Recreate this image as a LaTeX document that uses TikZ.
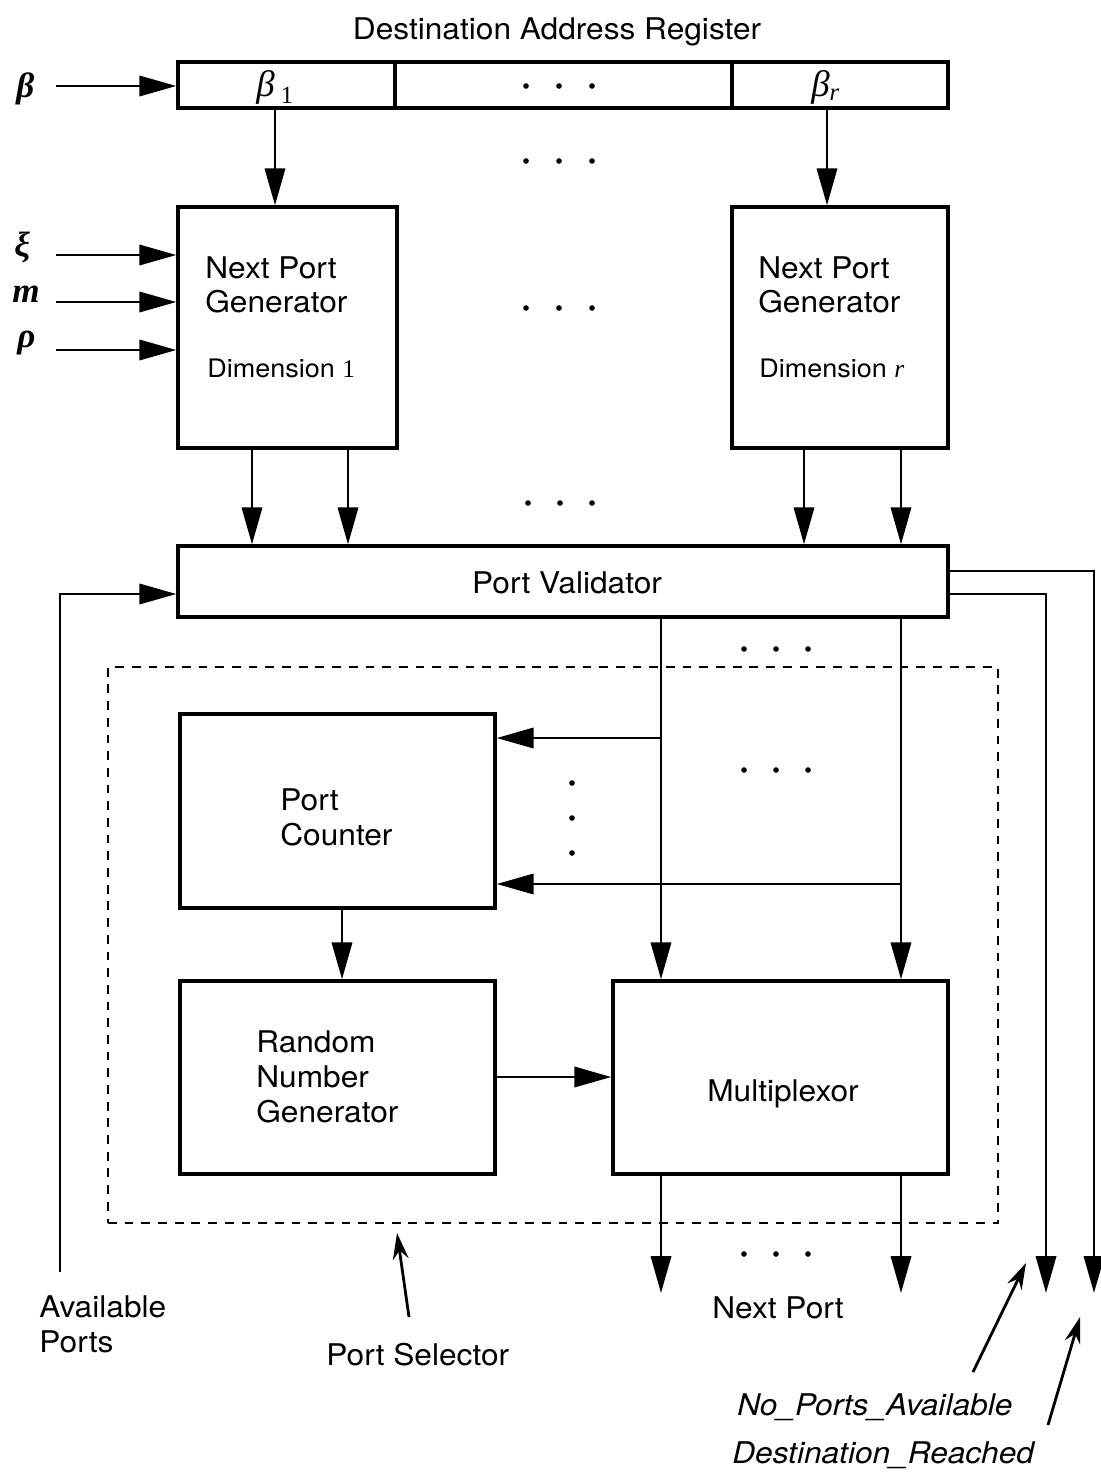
\documentclass[tikz,border=0pt]{standalone}
\usepackage{fontspec}
\setmainfont{TeX Gyre Heros}[FakeStretch=1.06]
\newfontfamily\tms{Liberation Serif}
\usetikzlibrary{arrows.meta,fit}

\begin{document}
\begin{tikzpicture}[x=0.02cm,y=-0.02cm,
  box/.style={draw,line width=1.9pt,inner sep=0pt},
  wire/.style={line width=1.6pt},
  arr/.style={wire,-{Triangle[length=21pt,width=11.5pt]}},
  ptr/.style={line width=1.6pt,-{Stealth[length=15pt,width=9pt,inset=5pt]}},
  lbl/.style={inner sep=0pt,font=\fontsize{17}{20}\selectfont},
  lblit/.style={lbl,font=\fontsize{17}{20}\selectfont\itshape},
  small/.style={inner sep=0pt,font=\fontsize{14.5}{17}\selectfont},
  greek/.style={inner sep=0pt,font=\fontsize{20}{22}\selectfont\tms\bfseries\itshape},
  dotmark/.style={fill=black}
]
\useasboundingbox[fill=white] (0,0) rectangle (1101,1477);

% register
\node[lbl,anchor=base] (title) at (557,40) {Destination Address Register};
\node[box,fit={(178,62)(395,108)}] (r1) {};
\node[box,fit={(395,62)(732,108)}] (rm) {};
\node[box,fit={(732,62)(948,108)}] (rr) {};
\node[inner sep=0pt,anchor=base west] (b1) at (256,96)
  {\fontsize{21}{22}\selectfont\tms\itshape β\,\raisebox{-4pt}{\fontsize{14}{16}\selectfont\upshape 1}};
\node[inner sep=0pt,anchor=base west] (br) at (811,96)
  {\fontsize{21}{22}\selectfont\tms\itshape β\raisebox{-2.5pt}{\fontsize{14}{16}\selectfont r}};

% next port generators
\node[box,fit={(178,207)(397,448)}] (g1) {};
\node[box,fit={(732,207)(948,448)}] (gr) {};
\node[lbl,anchor=base west] (g1a) at (205,278) {Next Port};
\node[lbl,anchor=base west] (g1b) at (205,312) {Generator};
\node[small,anchor=base west] (g1c) at (207,377) {Dimension {\tms 1}};
\node[lbl,anchor=base west] (gra) at (758,278) {Next Port};
\node[lbl,anchor=base west] (grb) at (758,312) {Generator};
\node[small,anchor=base west] (grc) at (759,377) {Dimension {\tms\itshape r}};

% inputs
\node[greek,anchor=base west] (lbeta) at (16,98) {β};
\node[greek,anchor=base west] (lxi) at (14,256) {ξ};
\node[greek,anchor=base west] (lm) at (12,302) {m};
\node[greek,anchor=base west] (lrho) at (17,347) {ρ};
\coordinate (inb) at (56,86);
\coordinate (inxi) at (56,255);
\coordinate (inm) at (56,302);
\coordinate (inrho) at (56,350);
\draw[arr] (inb) -- (r1.west |- inb);
\draw[arr] (inxi) -- (g1.west |- inxi);
\draw[arr] (inm) -- (g1.west |- inm);
\draw[arr] (inrho) -- (g1.west |- inrho);

% register to generators
\coordinate (cb1) at (275,0);
\coordinate (cbr) at (827,0);
\draw[arr] (r1.south -| cb1) -- (g1.north -| cb1);
\draw[arr] (rr.south -| cbr) -- (gr.north -| cbr);

% port validator
\node[box,fit={(178,546)(948,617)}] (pv) {};
\node[lbl,anchor=base] (pvt) at (567,593) {Port Validator};
\coordinate (ca) at (252,0);
\coordinate (cb) at (348,0);
\coordinate (cc) at (804,0);
\coordinate (cd) at (901,0);
\coordinate (cm) at (661,0);
\draw[arr] (g1.south -| ca) -- (pv.north -| ca);
\draw[arr] (g1.south -| cb) -- (pv.north -| cb);
\draw[arr] (gr.south -| cc) -- (pv.north -| cc);
\draw[arr] (gr.south -| cd) -- (pv.north -| cd);

% status outputs and available ports input
\coordinate (ydr) at (0,571);
\coordinate (ynpa) at (0,594);
\coordinate (dr) at (1094,1293);
\coordinate (npa) at (1046,1293);
\draw[arr] (pv.east |- ydr) -| (dr);
\draw[arr] (pv.east |- ynpa) -| (npa);
\coordinate (ap) at (60,1272);
\draw[arr] (ap) |- (pv.west |- ynpa);

% port selector
\node[draw,line width=1.5pt,dash pattern=on 5pt off 4.5pt,inner sep=0pt,
  fit={(108,667)(998,1223)}] (sel) {};
\node[box,fit={(180,714)(495,908)}] (pc) {};
\node[lbl,anchor=base west] (pca) at (280,810) {Port};
\node[lbl,anchor=base west] (pcb) at (280,845) {Counter};
\node[box,fit={(180,981)(495,1174)}] (rng) {};
\node[lbl,anchor=base west] (rnga) at (256,1052) {Random};
\node[lbl,anchor=base west] (rngb) at (256,1087) {Number};
\node[lbl,anchor=base west] (rngc) at (256,1122) {Generator};
\node[box,fit={(613,981)(948,1174)}] (mux) {};
\node[lbl,anchor=base] (muxt) at (783,1101) {Multiplexor};

\draw[arr] (pv.south -| cm) -- (mux.north -| cm);
\draw[arr] (pv.south -| cd) -- (mux.north -| cd);
\coordinate (t1) at (661,738);
\coordinate (t2) at (901,884);
\draw[arr] (t1) -- (pc.east |- t1);
\draw[arr] (t2) -- (pc.east |- t2);
\coordinate (cpc) at (342,0);
\draw[arr] (pc.south -| cpc) -- (rng.north -| cpc);
\coordinate (yr) at (0,1077);
\draw[arr] (rng.east |- yr) -- (mux.west |- yr);
\coordinate (o1) at (661,1293);
\coordinate (o2) at (901,1293);
\draw[arr] (mux.south -| o1) -- (o1);
\draw[arr] (mux.south -| o2) -- (o2);

% ellipsis marks
\foreach \x/\y in {526/86,559/86,592/86, 526/161,559/161,592/161,
  526/308,559/308,592/308, 528/503,560/503,592/503,
  744/649,776/649,808/649, 744/770,776/770,808/770,
  744/1254,776/1254,808/1254, 572/783,572/818,572/853}
  \fill[dotmark] (\x,\y) circle (1.6pt);

% bottom labels
\node[lbl,anchor=base west] (apa) at (39,1317) {Available};
\node[lbl,anchor=base west] (apb) at (39,1352) {Ports};
\node[lbl,anchor=base west] (pst) at (326,1365) {Port Selector};
\node[lbl,anchor=base west] (npt) at (712,1318) {Next Port};
\node[lblit,anchor=base west] (npat) at (737,1415) {No\_Ports\_Available};
\node[lblit,anchor=base west] (drt) at (732,1463) {Destination\_Reached};

\coordinate (psa) at (409,1317);
\coordinate (psb) at (397,1233);
\coordinate (npa1) at (973,1372);
\coordinate (npa2) at (1026,1263);
\coordinate (dra1) at (1048,1425);
\coordinate (dra2) at (1080,1317);
\draw[ptr] (psa) -- (psb);
\draw[ptr] (npa1) -- (npa2);
\draw[ptr] (dra1) -- (dra2);
\end{tikzpicture}
\end{document}
